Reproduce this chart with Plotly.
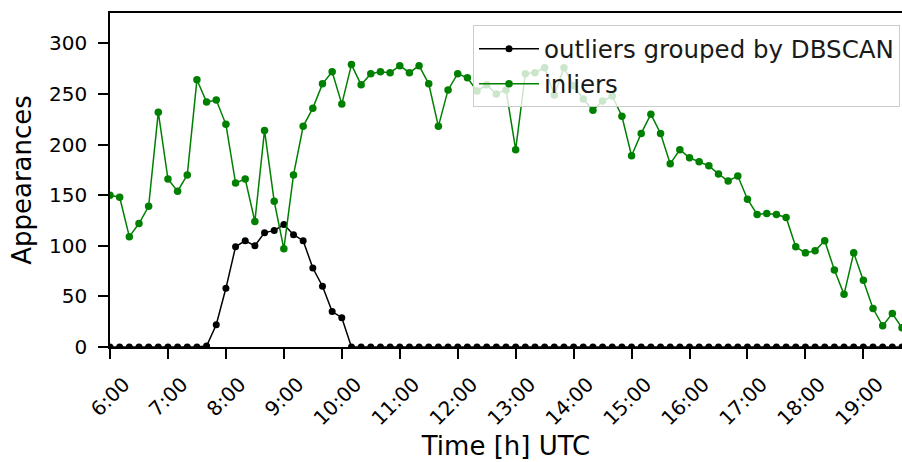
import plotly.graph_objects as go

# Time grid: 10-minute samples from 6:00 to 19:40 (hours as decimal)
start_hour = 6
step_min = 10
n_points = 83
time_hours = [start_hour + i * step_min / 60 for i in range(n_points)]

outliers = [0, 0, 0, 0, 0, 0, 0, 0, 0, 0,
            1, 22, 58, 99, 105, 100, 113, 115, 121, 111,
            105, 78, 60, 35, 29] + [0] * 58

inliers = [150, 148, 109, 122, 139, 232, 166, 154, 170, 264,
           242, 244, 220, 162, 166, 124, 214, 144, 97, 170,
           218, 236, 260, 272, 240, 279, 259, 270, 272, 271,
           278, 271, 278, 260, 218, 254, 270, 266, 253, 259,
           250, 254, 195, 270, 271, 276, 249, 276, 258, 245,
           234, 243, 248, 228, 189, 211, 230, 211, 181, 195,
           187, 183, 179, 171, 164, 169, 146, 131, 132, 131,
           128, 99, 93, 95, 105, 76, 52, 93, 66, 38,
           21, 33, 19]

tick_hours = list(range(6, 20))
tick_labels = [f"{h}:00" for h in tick_hours]
y_ticks = [0, 50, 100, 150, 200, 250, 300]

FONT = "DejaVu Sans"

fig = go.Figure()
fig.add_trace(go.Scatter(
    x=time_hours, y=outliers, mode="lines+markers",
    name="outliers grouped by DBSCAN",
    line=dict(color="black", width=1.5),
    marker=dict(color="black", size=7),
))
fig.add_trace(go.Scatter(
    x=time_hours, y=inliers, mode="lines+markers",
    name="inliers",
    line=dict(color="#008000", width=1.5),
    marker=dict(color="#008000", size=7.5),
))

fig.update_layout(
    width=902, height=462,
    margin=dict(l=110, r=0, t=13, b=115),
    paper_bgcolor="white", plot_bgcolor="white",
    font=dict(family=FONT, color="black"),
    showlegend=True,
    legend=dict(
        x=0.9975, y=0.963, xanchor="right", yanchor="top",
        bgcolor="rgba(255,255,255,0.8)", bordercolor="#cccccc", borderwidth=1,
        font=dict(family=FONT, size=24.5, color="#1a1a1a"),
        itemwidth=60,
    ),
)
fig.update_xaxes(
    range=[time_hours[0], time_hours[-1]],
    tickvals=tick_hours, ticktext=tick_labels,
    tickangle=-45, tickfont=dict(family=FONT, size=20),
    ticks="outside", ticklen=10, tickwidth=1.5, tickcolor="black",
    ticklabelshift=14, ticklabelstandoff=6,
    showline=True, linecolor="black", linewidth=1.5, mirror=True,
    showgrid=False, zeroline=False,
    title=dict(text="Time [h] UTC", font=dict(family=FONT, size=26), standoff=8),
)
fig.update_yaxes(
    range=[0, 330],
    tickvals=y_ticks,
    tickfont=dict(family=FONT, size=20),
    ticks="outside", ticklen=10, tickwidth=1.5, tickcolor="black",
    ticklabelstandoff=7,
    showline=True, linecolor="black", linewidth=1.5,
    showgrid=False, zeroline=False,
    title=dict(text="Appearances", font=dict(family=FONT, size=26), standoff=10),
)

fig.write_html("out.html")
